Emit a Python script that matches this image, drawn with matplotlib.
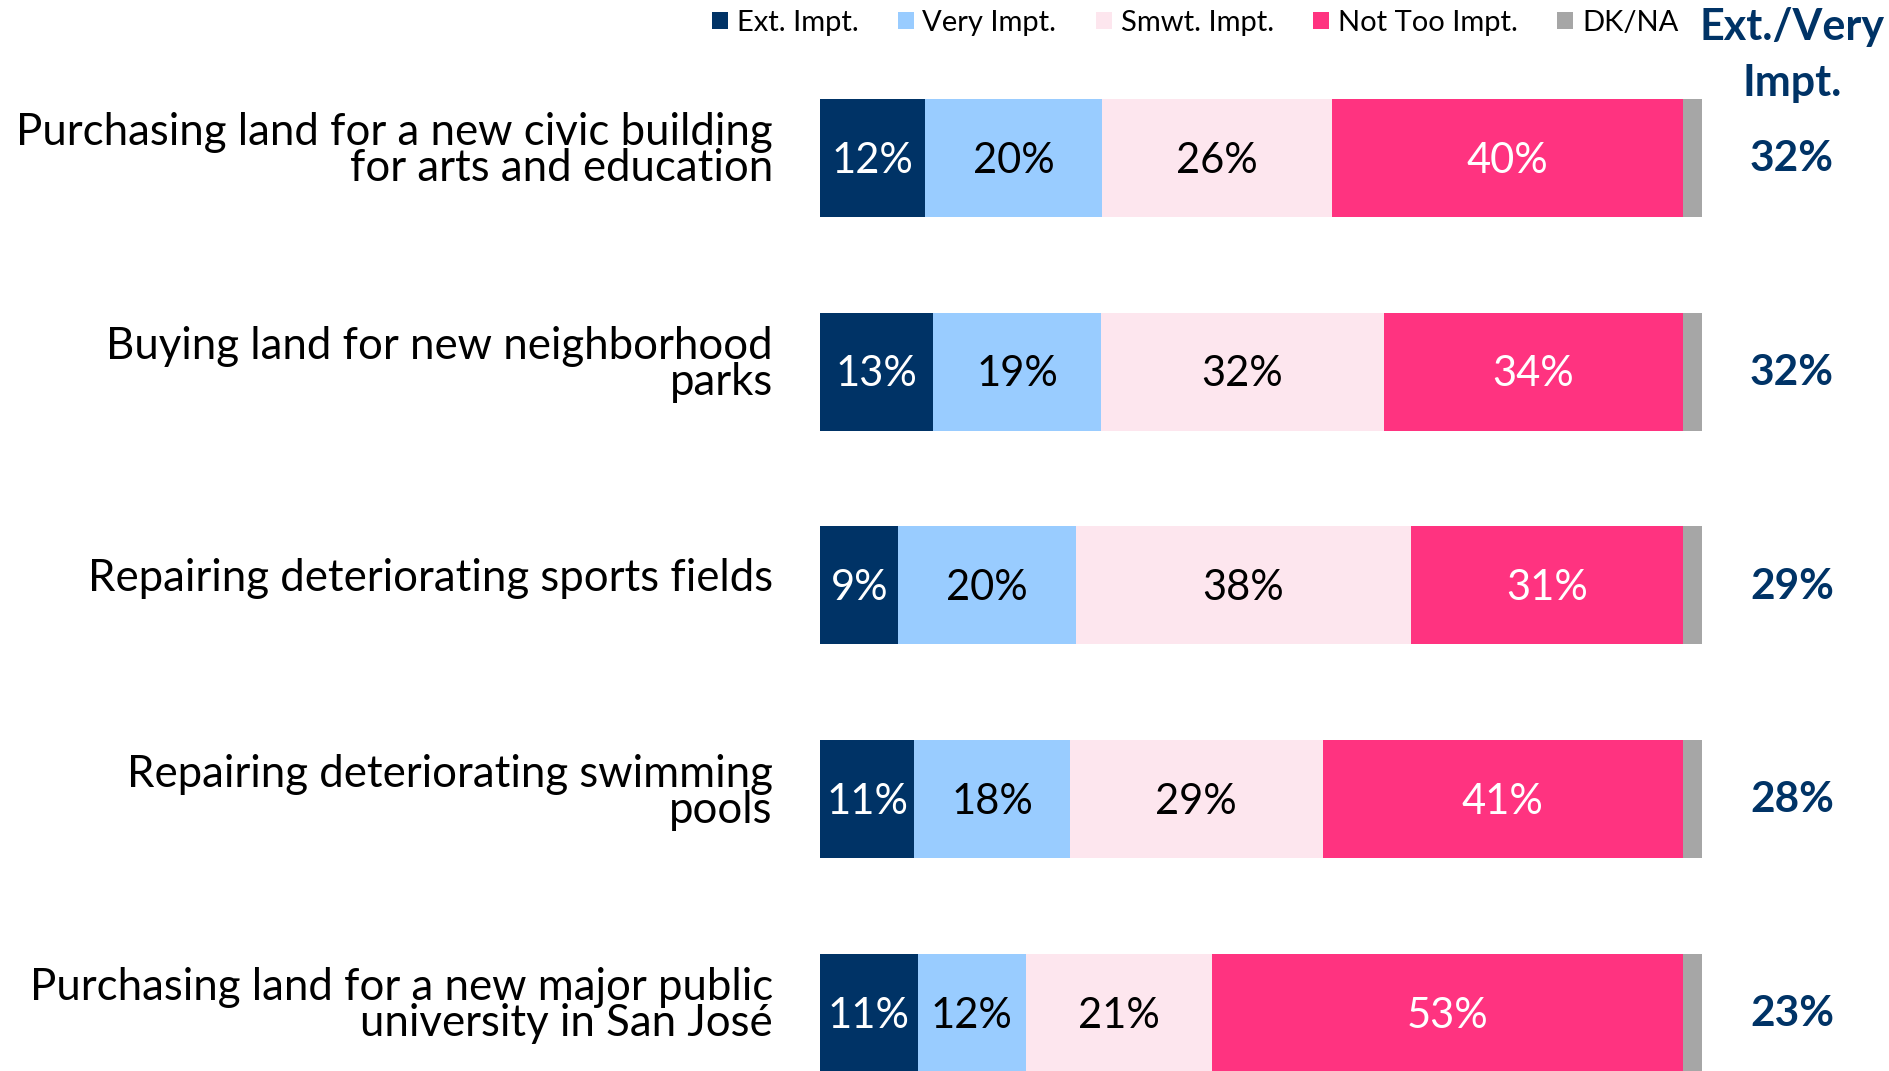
import matplotlib.pyplot as plt
from matplotlib.patches import Patch

plt.rcParams['font.family'] = ['Lato', 'DejaVu Sans']

# datos
items = ['Purchasing land for a new civic building\nfor arts and education',
         'Buying land for new neighborhood\nparks',
         'Repairing deteriorating sports fields',
         'Repairing deteriorating swimming\npools',
         'Purchasing land for a new major public\nuniversity in San José']
series = ['Ext. Impt.', 'Very Impt.', 'Smwt. Impt.', 'Not Too Impt.', 'DK/NA']
ext = [11.9, 12.8, 8.9, 10.7, 11.1]
very = [20.1, 19.1, 20.1, 17.6, 12.2]
smwt = [26.0, 32.0, 38.0, 28.7, 21.2]
not_too = [39.9, 33.9, 30.9, 40.8, 53.4]
dkna = [2.2, 2.2, 2.2, 2.2, 2.1]
ext_very = [32, 32, 29, 28, 23]

colores = ['#003366', '#99CCFF', '#FDE6EE', '#FF3380', '#A6A6A6']
color_texto = ['white', 'black', 'black', 'white', None]
navy = '#003366'

fig = plt.figure(figsize=(18.89, 10.71), dpi=100)
ax = fig.add_axes([820 / 1889, 0, 882 / 1889, 1])

y = list(range(len(items)))
left = [0] * len(items)
for vals, col, tc, name in zip([ext, very, smwt, not_too, dkna], colores, color_texto, series):
    bars = ax.barh(y, vals, left=left, height=0.552, color=col, label=name)
    if tc is not None:
        for b, v in zip(bars, vals):
            ax.annotate(f'{round(v)}%', xy=(b.get_x() + b.get_width() / 2, b.get_y() + b.get_height() / 2),
                        xytext=(0, -2), textcoords='offset points',
                        ha='center', va='center', fontsize=30, color=tc)
    left = [l + v for l, v in zip(left, vals)]

# columna Ext./Very
for i, v in enumerate(ext_very):
    ax.annotate(f'{v}%', xy=(110.2, i), xytext=(0, -1), textcoords='offset points',
                ha='center', va='center', fontsize=30.5, fontweight='bold', color=navy,
                annotation_clip=False)
ax.text(110.2, -0.61, 'Ext./Very', ha='center', va='center', fontsize=31,
        fontweight='bold', color=navy)
ax.text(110.2, -0.35, 'Impt.', ha='center', va='center', fontsize=31,
        fontweight='bold', color=navy)

# etiquetas de categoría
for i, txt in enumerate(items):
    ax.annotate(txt, xy=(0, i), xytext=(-34, 5), textcoords='offset points',
                ha='right', va='center', fontsize=31.5, linespacing=0.85,
                annotation_clip=False)

ax.set_xlim(0, 100)
ax.set_ylim(4.272, -0.738)
ax.set_xticks([])
ax.set_yticks([])
for s in ax.spines.values():
    s.set_visible(False)

handles = [Patch(facecolor=c, edgecolor='none') for c in colores]
fig.legend(handles, series, loc='center right', bbox_to_anchor=(1690 / 1889, 1 - 23 / 1071),
           ncol=5, frameon=False, fontsize=21, handlelength=0.55, handleheight=0.55,
           handletextpad=0.3, columnspacing=1.35, borderaxespad=0)

fig.savefig('out.png', dpi=100)
